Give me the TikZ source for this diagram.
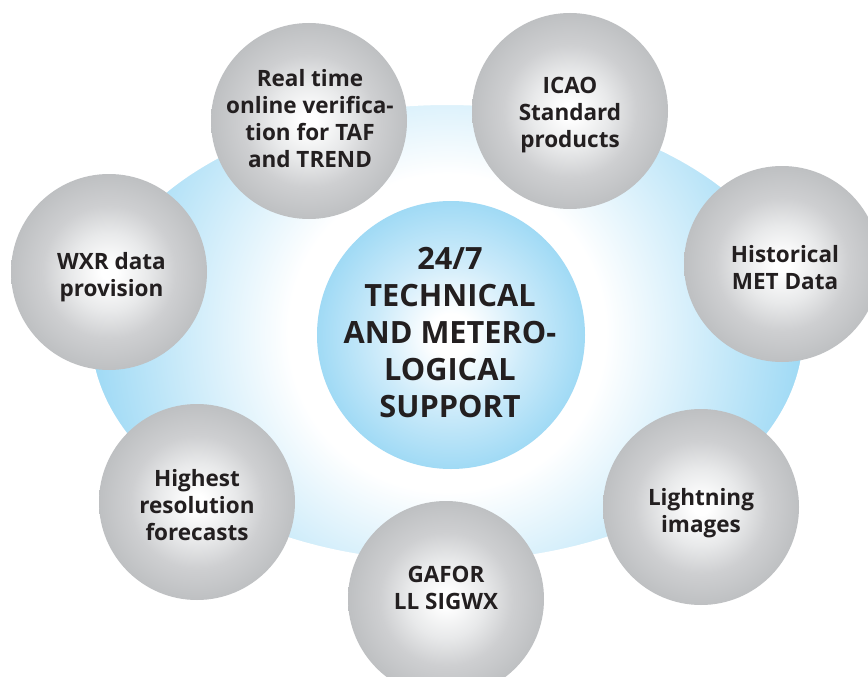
\documentclass[tikz,border=0pt]{standalone}
\usepackage{fontspec}
\setmainfont{Open Sans}[BoldFont={Open Sans Bold}]
\usetikzlibrary{shapes.geometric}
\definecolor{ballrim}{RGB}{190,192,194}
\definecolor{ballmid}{RGB}{206,207,209}
\definecolor{ballin}{RGB}{232,233,234}
\definecolor{skyedge}{RGB}{160,218,245}
\definecolor{skymid}{RGB}{205,235,250}
\definecolor{ink}{RGB}{35,31,32}
\pgfdeclareradialshading{greyball}{\pgfpointorigin}{color(0bp)=(white); color(2bp)=(white); color(10bp)=(ballin); color(17bp)=(ballmid); color(25bp)=(ballrim); color(50bp)=(ballrim)}
\pgfdeclareradialshading{bluecore}{\pgfpointorigin}{color(0bp)=(white); color(4bp)=(white); color(14bp)=(skymid); color(25bp)=(skyedge); color(50bp)=(skyedge)}
\pgfdeclareradialshading{blueglow}{\pgfpointorigin}{color(0bp)=(white); color(11bp)=(white); color(24.6bp)=(skyedge); color(50bp)=(skyedge)}
\tikzset{
  ball/.style={circle,inner sep=0pt,minimum size=196pt,shading=greyball},
  balltext/.style={text=ink,align=center,inner sep=0pt,
    font=\fontsize{22.5}{27}\selectfont\bfseries},
  core/.style={circle,inner sep=0pt,minimum size=268pt,shading=bluecore},
  coretext/.style={text=ink,align=center,inner sep=0pt,
    font=\fontsize{30.7}{37}\selectfont\bfseries},
  halo/.style={ellipse,inner sep=0pt,minimum width=712pt,minimum height=456pt}
}
\begin{document}
\begin{tikzpicture}[x=1pt,y=-1pt]
\useasboundingbox (0,0) rectangle (868,677);
\clip (0,0) rectangle (868,677);
\shade[shading=blueglow] (447,333) circle (360);
\fill[white,even odd rule] (-2,-2) rectangle (870,679) (447,333) ellipse [x radius=356,y radius=228];
\node[halo] (halo) at (447,333) {};
\node[core] (centre) at (451,335) {};
\node[coretext] (centretext) at (450,333) {24/7\\TECHNICAL\\AND METERO-\\LOGICAL\\SUPPORT};
\node[ball] (realtime) at (309,121) {};
\node[ball] (icao) at (570,111) {};
\node[ball] (hist) at (782,264) {};
\node[ball] (wxr) at (109,272) {};
\node[ball] (highest) at (197,502) {};
\node[ball] (gafor) at (446,599) {};
\node[ball] (light) at (701,507) {};
\node[balltext] (realtimetext) at (310,118.5) {Real time\\online verifica-\\tion for TAF\\and TREND};
\node[balltext] (icaotext) at (570,115.5) {ICAO\\Standard\\products};
\node[balltext] (histtext) at (785,268) {Historical\\MET Data};
\node[balltext] (wxrtext) at (111.5,277.5) {WXR data\\provision};
\node[balltext] (highesttext) at (197,505) {Highest\\resolution\\forecasts};
\node[balltext] (gafortext) at (446,587.5) {GAFOR\\LL SIGWX};
\node[balltext] (lighttext) at (701,513.5) {Lightning\\images};
\end{tikzpicture}
\end{document}
